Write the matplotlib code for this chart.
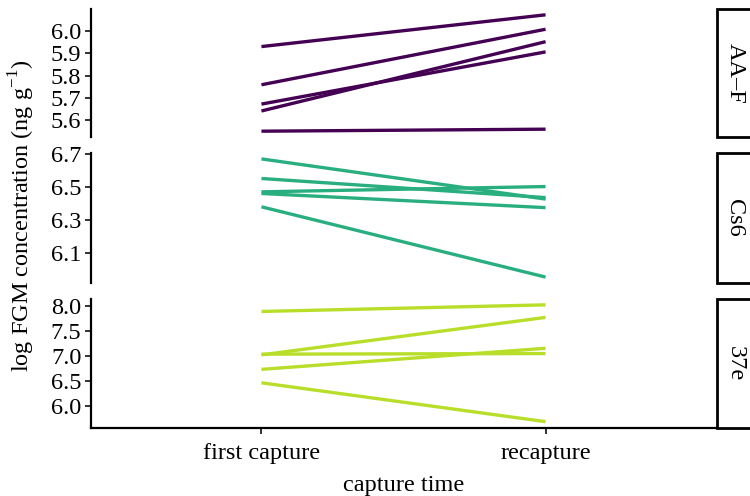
import matplotlib.pyplot as plt
import numpy as np
from matplotlib.patches import Rectangle

plt.rcParams['font.family'] = ['Liberation Serif', 'DejaVu Serif']

capture = ['first capture', 'recapture']
panels = ['AA\u2013F', 'Cs6', '37e']
colors = ['#440154', '#29AF7F', '#B8DE29']

# log FGM per individual: (first capture, recapture)
aaf_first = [5.931, 5.759, 5.672, 5.641, 5.550]
aaf_recap = [6.074, 6.009, 5.907, 5.953, 5.559]
cs6_first = [6.670, 6.551, 6.470, 6.460, 6.379]
cs6_recap = [6.426, 6.435, 6.502, 6.374, 5.952]
e37_first = [7.895, 7.024, 7.038, 6.733, 6.463]
e37_recap = [8.028, 7.776, 7.050, 7.156, 5.683]

yticks = [
    [5.6, 5.7, 5.8, 5.9, 6.0],
    [6.1, 6.3, 6.5, 6.7],
    [6.0, 6.5, 7.0, 7.5, 8.0],
]

FS = 17.5

def main() -> None:
    fig = plt.figure(figsize=(7.5, 4.96), dpi=100)
    W, H = 750, 496
    left, right = 91, 716
    rows = [(9, 137), (153, 283), (299, 427.5)]
    data = [(aaf_first, aaf_recap), (cs6_first, cs6_recap), (e37_first, e37_recap)]

    for i, (top, bot) in enumerate(rows):
        ax = fig.add_axes([left / W, 1 - bot / H, (right - left) / W, (bot - top) / H])
        first, recap = data[i]
        for a, b in zip(first, recap):
            ax.plot([1, 2], [a, b], color=colors[i], lw=2.4, solid_capstyle='butt')
        vals = np.array(first + recap)
        lo, hi = vals.min(), vals.max()
        pad = 0.05 * (hi - lo)
        ax.set_ylim(lo - pad, hi + pad)
        ax.set_xlim(0.4, 2.6)
        ax.set_yticks(yticks[i])
        ax.set_yticklabels([f'{t:.1f}' for t in yticks[i]])
        for s in ['top', 'right']:
            ax.spines[s].set_visible(False)
        ax.spines['left'].set_linewidth(1.6)
        ax.spines['bottom'].set_linewidth(1.6)
        ax.tick_params(axis='y', length=4, width=1.4, color='#333333',
                       labelsize=FS, pad=3)
        if i < 2:
            ax.spines['bottom'].set_visible(False)
            ax.set_xticks([])
        else:
            ax.set_xticks([1, 2])
            ax.set_xticklabels(capture)
            ax.tick_params(axis='x', length=4, width=1.4, color='#333333',
                           labelsize=FS, pad=7)
            ax.set_xlabel('capture time', fontsize=FS, labelpad=8)

        # facet strip on the right
        rect = Rectangle((717 / W, 1 - bot / H), 60 / W, (bot - top) / H,
                         transform=fig.transFigure, facecolor='white',
                         edgecolor='black', lw=2, clip_on=False)
        fig.patches.append(rect)
        fig.text(735 / W, 1 - (top + bot) / 2 / H, panels[i], rotation=-90,
                 ha='center', va='center', fontsize=FS)

    fig.text(22 / W, 1 - 216 / H, 'log FGM concentration (ng g$^{\\mathregular{-1}}$)',
             rotation=90, ha='center', va='center', fontsize=FS)

    fig.savefig('out.png', dpi=100)

if __name__ == "__main__":
    main()
